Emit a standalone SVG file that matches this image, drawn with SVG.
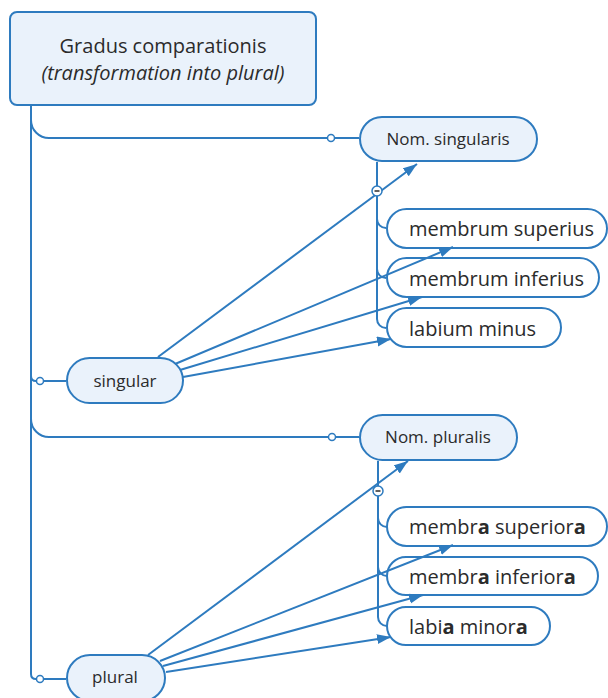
<svg xmlns="http://www.w3.org/2000/svg" width="608" height="698" viewBox="0 0 608 698">
  <style>
    .box { fill: #eaf2fb; stroke: #2e7bbf; stroke-width: 2; }
    .leaf { fill: #ffffff; stroke: #2e7bbf; stroke-width: 2; }
    .wire { fill: none; stroke: #2e7bbf; stroke-width: 2; }
    .arrow { fill: none; stroke: #2e7bbf; stroke-width: 2; marker-end: url(#head); }
    .dot { fill: #ffffff; stroke: #2e7bbf; stroke-width: 1.5; }
    .t { font-family: "Open Sans", "Noto Sans", sans-serif; fill: #2b2b2b; }
    .big { font-size: 20px; }
    .small { font-size: 17px; }
    .b { font-weight: bold; }
  </style>
  <defs>
    <marker id="head" markerUnits="userSpaceOnUse" markerWidth="16" markerHeight="12" refX="14" refY="5" orient="auto">
      <path d="M0,0 L14,5 L0,10 Z" fill="#2e7bbf"/>
    </marker>
  </defs>

  <rect width="608" height="698" fill="#ffffff"/>

  <!-- nodes -->
  <g id="root">
    <rect class="box" x="10" y="12" width="306" height="93" rx="7"/>
    <text class="t big" x="163" y="53" text-anchor="middle">Gradus comparationis</text>
    <text class="t big" x="163" y="80" text-anchor="middle" font-style="italic">(transformation into plural)</text>
  </g>

  <g id="nom-singularis">
    <rect class="box" x="360" y="117" width="177" height="44" rx="22"/>
    <text class="t small" x="448" y="145" text-anchor="middle">Nom. singularis</text>
  </g>

  <g id="membrum-superius">
    <rect class="leaf" x="387" y="209" width="220" height="39" rx="19.5"/>
    <text class="t big" x="409" y="236">membrum superius</text>
  </g>

  <g id="membrum-inferius">
    <rect class="leaf" x="387" y="258" width="212" height="39" rx="19.5"/>
    <text class="t big" x="409" y="286">membrum inferius</text>
  </g>

  <g id="labium-minus">
    <rect class="leaf" x="387" y="308" width="174" height="39" rx="19.5"/>
    <text class="t big" x="409" y="336">labium minus</text>
  </g>

  <g id="singular">
    <rect class="box" x="67" y="358" width="116" height="45" rx="22.5"/>
    <text class="t small" x="125" y="387" text-anchor="middle">singular</text>
  </g>

  <g id="nom-pluralis">
    <rect class="box" x="360" y="415" width="157" height="45" rx="22.5"/>
    <text class="t small" x="438" y="443" text-anchor="middle">Nom. pluralis</text>
  </g>

  <g id="membra-superiora">
    <rect class="leaf" x="387" y="507" width="220" height="39" rx="19.5"/>
    <text class="t big" x="409" y="534">membr<tspan class="b">a</tspan> superior<tspan class="b">a</tspan></text>
  </g>

  <g id="membra-inferiora">
    <rect class="leaf" x="387" y="557" width="211" height="38" rx="19"/>
    <text class="t big" x="409" y="584">membr<tspan class="b">a</tspan> inferior<tspan class="b">a</tspan></text>
  </g>

  <g id="labia-minora">
    <rect class="leaf" x="387" y="607" width="163" height="38" rx="19"/>
    <text class="t big" x="409" y="634">labi<tspan class="b">a</tspan> minor<tspan class="b">a</tspan></text>
  </g>

  <g id="plural">
    <rect class="box" x="67" y="655" width="98" height="46" rx="23"/>
    <text class="t small" x="115" y="683" text-anchor="middle">plural</text>
  </g>

  <!-- connectors (drawn last so arrows run over the boxes) -->
  <g id="connectors">
    <!-- main trunk and its branches -->
    <path class="wire" d="M31,106 V674"/>
    <path class="wire" d="M31,120 A18,18 0 0 0 49,138 H359"/>
    <path class="wire" d="M31,376 Q31,381 36,381 H66"/>
    <path class="wire" d="M31,419 A18,18 0 0 0 49,437 H359"/>
    <path class="wire" d="M31,674 Q31,679 36,679 H66"/>
    <circle class="dot" cx="331" cy="138" r="3.5"/>
    <circle class="dot" cx="40" cy="381" r="3.5"/>
    <circle class="dot" cx="332" cy="437" r="3.5"/>
    <circle class="dot" cx="40" cy="679" r="3.5"/>

    <!-- singular sub-branches -->
    <path class="wire" d="M377,162 V319"/>
    <path class="wire" d="M377,219 A9,9 0 0 0 386,228"/>
    <path class="wire" d="M377,269 A9,9 0 0 0 386,278"/>
    <path class="wire" d="M377,319 A9,9 0 0 0 386,328"/>

    <!-- plural sub-branches -->
    <path class="wire" d="M378,461 V617"/>
    <path class="wire" d="M378,518 A9,9 0 0 0 387,527"/>
    <path class="wire" d="M378,567 A9,9 0 0 0 387,576"/>
    <path class="wire" d="M378,617 A9,9 0 0 0 387,626"/>

    <!-- arrows from singular -->
    <path class="arrow" d="M158,357 L417,164"/>
    <path class="arrow" d="M175,364 L453,247"/>
    <path class="arrow" d="M180,370 L422,297"/>
    <path class="arrow" d="M183,377 L391,339"/>

    <!-- arrows from plural -->
    <path class="arrow" d="M148,655 L408,461"/>
    <path class="arrow" d="M160,661 L453,545"/>
    <path class="arrow" d="M163,666 L423,595"/>
    <path class="arrow" d="M166,672 L391,637"/>

    <!-- collapse toggles -->
    <g>
      <circle class="dot" cx="377" cy="191" r="5"/>
      <path d="M374.5,191 H379.5" stroke="#2b2b2b" stroke-width="1.5"/>
    </g>
    <g>
      <circle class="dot" cx="378" cy="491" r="5"/>
      <path d="M375.5,491 H380.5" stroke="#2b2b2b" stroke-width="1.5"/>
    </g>
  </g>
</svg>
